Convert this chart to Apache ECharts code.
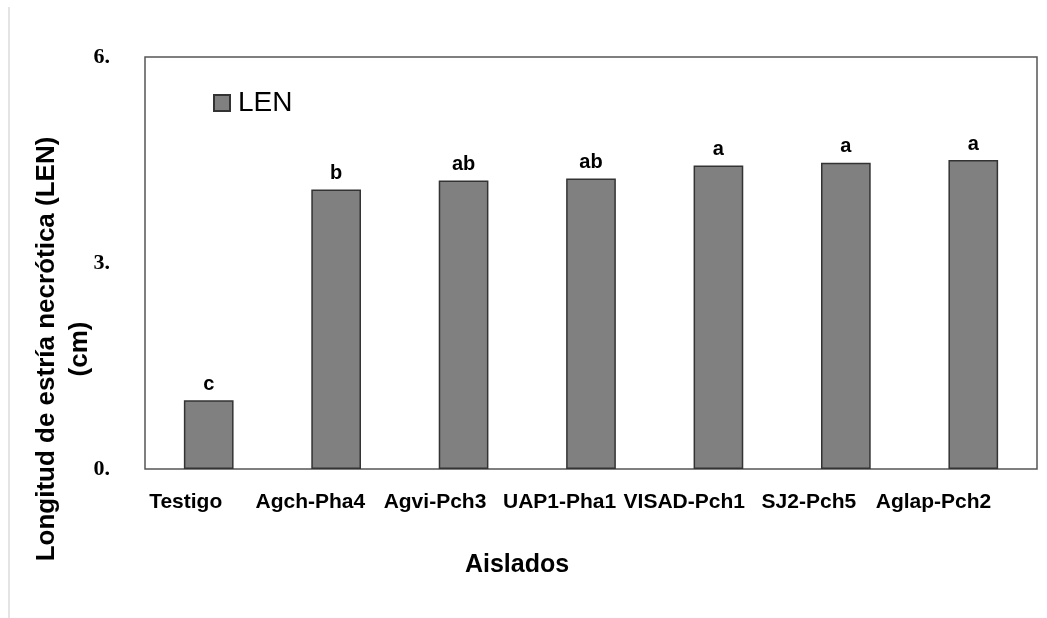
<!DOCTYPE html>
<html>
<head>
<meta charset="utf-8">
<script src="https://cdn.jsdelivr.net/npm/echarts@6/dist/echarts.min.js"></script>
<style>
html,body{margin:0;padding:0;background:#fff;}
#chart{width:1047px;height:618px;}
</style>
</head>
<body>
<div id="chart"></div>
<script>
const categories = ['Testigo', 'Agch-Pha4', 'Agvi-Pch3', 'UAP1-Pha1', 'VISAD-Pch1', 'SJ2-Pch5', 'Aglap-Pch2'];
const lenValues = [1.0, 4.07, 4.20, 4.23, 4.42, 4.46, 4.50];
const groupLetters = ['c', 'b', 'ab', 'ab', 'a', 'a', 'a'];
const yTickValues = [0, 3, 6];
const yTickLabels = ['0.', '3.', '6.'];

// x labels in the reference sit progressively left of their bars
const labelRich = {};
categories.forEach(function (c, i) {
  labelRich['l' + i] = {
    fontFamily: 'Liberation Sans, Arial, sans-serif', fontWeight: 'bold', fontSize: 21, color: '#000',
    padding: [0, 2 * (23 + 2.8 * i), 0, 0]
  };
});

const chart = echarts.init(document.getElementById('chart'), null, {renderer: 'canvas'});
const option = {
  animation: false,
  backgroundColor: '#ffffff',
  graphic: [{
    type: 'line', silent: true,
    shape: {x1: 9, y1: 7, x2: 9, y2: 618},
    style: {stroke: '#e4e4e4', lineWidth: 2}
  }],
  grid: {
    left: 145, right: 10, top: 57, bottom: 149,
    outerBoundsMode: 'none',
    show: true, borderColor: '#555555', borderWidth: 1.5, backgroundColor: '#ffffff',
    containLabel: false
  },
  legend: {
    show: true,
    left: 208, top: 84,
    itemWidth: 16, itemHeight: 16,
    icon: 'rect',
    textStyle: {fontFamily: 'Liberation Sans, Arial, sans-serif', fontSize: 28, color: '#000', padding: [0, 0, 0, 3]},
    data: ['LEN']
  },
  xAxis: {
    type: 'category',
    data: categories,
    axisLine: {show: false},
    axisTick: {show: false},
    axisLabel: {
      interval: 0, margin: 23,
      fontFamily: 'Liberation Sans, Arial, sans-serif', fontWeight: 'bold', fontSize: 21, color: '#000',
      formatter: function (v, i) { return '{l' + i + '|' + v + '}'; },
      rich: labelRich
    },
    name: 'Aislados',
    nameLocation: 'middle',
    nameGap: 84,
    nameMoveOverlap: false,
    nameTextStyle: {
      fontFamily: 'Liberation Sans, Arial, sans-serif', fontWeight: 'bold', fontSize: 25, color: '#000',
      padding: [0, 148, 0, 0]
    }
  },
  yAxis: {
    type: 'value',
    min: 0, max: 6, interval: 3,
    splitLine: {show: false},
    axisLine: {show: false},
    axisTick: {show: false},
    axisLabel: {
      margin: 35,
      fontFamily: 'Liberation Serif, Times New Roman, serif', fontWeight: 'bold', fontSize: 22, color: '#000',
      formatter: function (v) { const i = yTickValues.indexOf(v); return i >= 0 ? yTickLabels[i] : ''; }
    },
    name: 'Longitud de estría necrótica (LEN)\n(cm)',
    nameLocation: 'middle',
    nameGap: 49,
    nameMoveOverlap: false,
    nameTextStyle: {
      fontFamily: 'Liberation Sans, Arial, sans-serif', fontWeight: 'bold', fontSize: 26, color: '#000',
      lineHeight: 33, align: 'center',
      padding: [0, 172, 0, 0]
    }
  },
  series: [{
    name: 'LEN',
    type: 'bar',
    data: lenValues,
    barWidth: '39%',
    itemStyle: {color: '#808080', borderColor: '#333333', borderWidth: 1.5},
    label: {
      show: true, position: 'top', distance: 6,
      fontFamily: 'Liberation Sans, Arial, sans-serif', fontWeight: 'bold', fontSize: 20, color: '#000',
      formatter: function (p) { return groupLetters[p.dataIndex]; }
    }
  }]
};
chart.setOption(option);
</script>
</body>
</html>
